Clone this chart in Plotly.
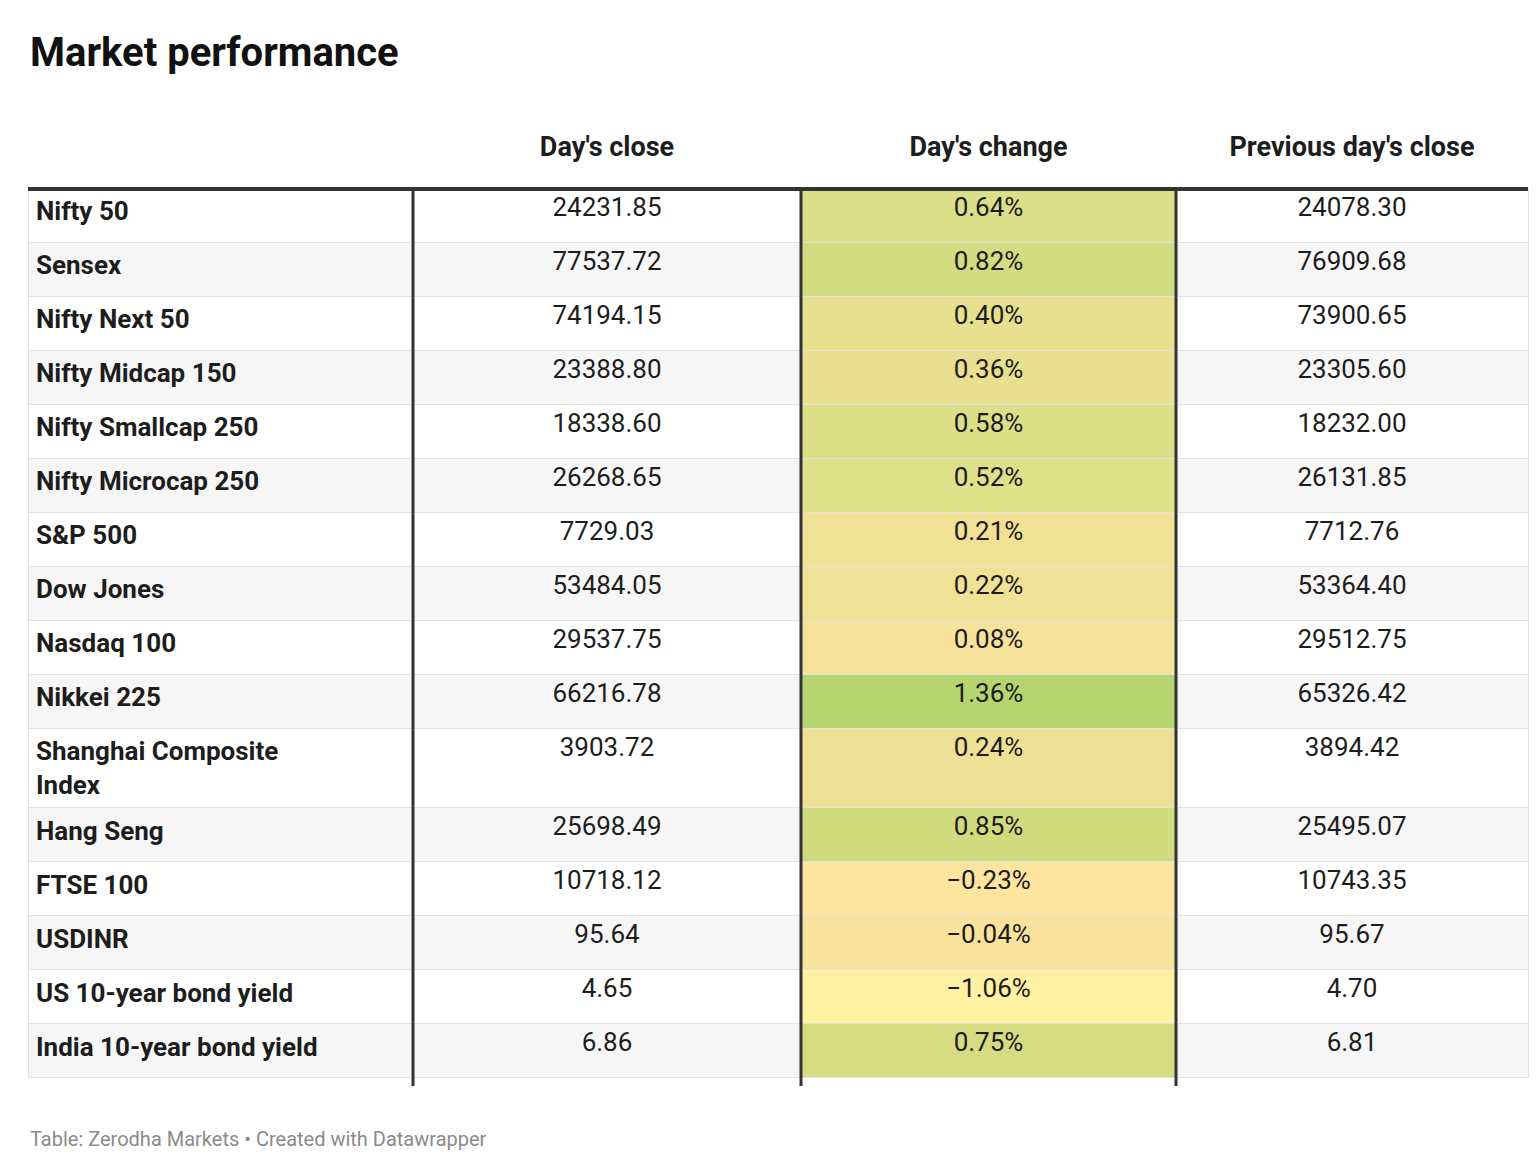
import plotly.graph_objects as go

names = ["Nifty 50", "Sensex", "Nifty Next 50", "Nifty Midcap 150", "Nifty Smallcap 250",
         "Nifty Microcap 250", "S&P 500", "Dow Jones", "Nasdaq 100", "Nikkei 225",
         "Shanghai Composite<br>Index", "Hang Seng", "FTSE 100", "USDINR",
         "US 10-year bond yield", "India 10-year bond yield"]
close = ["24231.85", "77537.72", "74194.15", "23388.80", "18338.60", "26268.65", "7729.03",
         "53484.05", "29537.75", "66216.78", "3903.72", "25698.49", "10718.12", "95.64",
         "4.65", "6.86"]
change = ["0.64%", "0.82%", "0.40%", "0.36%", "0.58%", "0.52%", "0.21%", "0.22%", "0.08%",
          "1.36%", "0.24%", "0.85%", "−0.23%", "−0.04%", "−1.06%", "0.75%"]
prev = ["24078.30", "76909.68", "73900.65", "23305.60", "18232.00", "26131.85", "7712.76",
        "53364.40", "29512.75", "65326.42", "3894.42", "25495.07", "10743.35", "95.67",
        "4.70", "6.81"]
change_colors = ["#dcdf8a", "#d2dc80", "#e6e08f", "#e8e090", "#dcdf88", "#dfe08a", "#f0e195",
                 "#efe195", "#f6e29b", "#b6d570", "#eee195", "#d0db7e", "#fde49f", "#f9e39c",
                 "#fef1a1", "#d5dc82"]
headers = ["", "<b>Day's close</b>", "<b>Day's change</b>", "<b>Previous day's close</b>"]

stripe = ["#ffffff" if i % 2 == 0 else "#f6f6f6" for i in range(len(names))]

fig = go.Figure(go.Table(
    columnwidth=[385, 388, 375, 352],
    header=dict(values=headers, fill_color="white", line=dict(color="white", width=0),
                align=["left", "center", "center", "center"], height=65,
                font=dict(family="Roboto", size=27, color="#1d1d1d")),
    cells=dict(values=[["<b>" + n + "</b>" for n in names], close, change, prev],
               fill_color=[stripe, stripe, change_colors, stripe],
               line=dict(color="#e2e2e2", width=1),
               align=["left", "center", "center", "center"], height=54,
               font=dict(family="Roboto", size=26, color="#1d1d1d")),
))

W, H, L, T, B = 1540, 1164, 20, 115, 86
ph = H - T - B
def px(x):
    return (x - L) / (W - 40)
def py(y):
    return 1 - (y - T) / ph

shapes = [dict(type="line", xref="paper", yref="paper", x0=px(20), x1=px(1520),
               y0=py(181), y1=py(181), line=dict(color="#333333", width=4))]
for xv in [405, 793, 1168]:
    shapes.append(dict(type="line", xref="paper", yref="paper", x0=px(xv), x1=px(xv),
                       y0=py(181), y1=py(1078), line=dict(color="#333333", width=3)))

fig.update_layout(
    width=W, height=H, margin=dict(l=L, r=20, t=T, b=B),
    paper_bgcolor="white", shapes=shapes,
    annotations=[
        dict(text="<b>Market performance</b>", x=0, y=py(45), xref="paper", yref="paper",
             xanchor="left", yanchor="middle", showarrow=False,
             font=dict(family="Roboto", size=40, color="#111111")),
        dict(text="Table: Zerodha Markets • Created with Datawrapper", x=0, y=py(1131),
             xref="paper", yref="paper", xanchor="left", yanchor="middle", showarrow=False,
             font=dict(family="Roboto", size=20, color="#8a8a8a")),
    ],
)
fig.write_html("out.html")
